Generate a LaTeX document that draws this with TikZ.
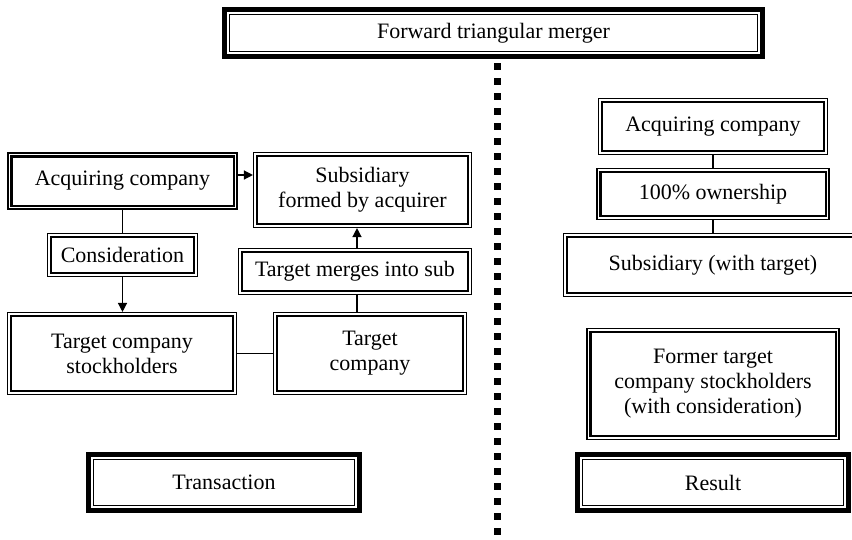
\documentclass[tikz,border=0pt]{standalone}
\usepackage{fontspec}
\setmainfont{Liberation Serif}
\usetikzlibrary{arrows.meta}

\begin{document}
\begin{tikzpicture}[x=1pt, y=-1pt,
  box/.style={draw, line width=1.1pt, align=center, inner sep=0pt,
    font=\fontsize{22}{25}\selectfont,
    path picture={\draw[line width=2.4pt]
      ([shift={(3.3pt,3.3pt)}]path picture bounding box.south west) rectangle
      ([shift={(-3.3pt,-3.3pt)}]path picture bounding box.north east);}},
  heavybox/.style={draw, line width=5pt, align=center, inner sep=0pt,
    font=\fontsize{22}{25}\selectfont,
    path picture={\draw[line width=1.3pt]
      ([shift={(4.7pt,4.7pt)}]path picture bounding box.south west) rectangle
      ([shift={(-4.7pt,-4.7pt)}]path picture bounding box.north east);}},
  link/.style={line width=1.3pt},
  arr/.style={line width=1.3pt, -{Triangle[length=9pt,width=9pt]}},
  divider/.style={line width=7pt, dash pattern=on 7pt off 8pt}]
  \useasboundingbox (0,0) rectangle (852,539);
  % Title and divider
  \node[heavybox, minimum width=538pt, minimum height=47pt] (title) at (493.5,33) {Forward triangular merger};
  \coordinate (divtop) at (497,63);
  \coordinate (divbot) at (497,539);
  \draw[divider] (divtop) -- (divbot);
  % Transaction side
  \node[box, minimum width=229pt, minimum height=56pt] (acqL) at (122.5,181) {Acquiring company};
  \node[box, minimum width=150pt, minimum height=43pt] (consid) at (122.5,255) {Consideration};
  \node[box, minimum width=218pt, minimum height=75pt] (subF) at (362.5,190) {Subsidiary\\formed by acquirer};
  \node[box, minimum width=233pt, minimum height=46pt] (merge) at (355,271.5) {Target merges into sub};
  \node[box, minimum width=229pt, minimum height=82pt] (stock) at (122,353.5) {Target company\\stockholders};
  \node[box, minimum width=193pt, minimum height=82pt] (tgt) at (370,353.5) {Target\\company};
  \node[heavybox, minimum width=271pt, minimum height=56pt] (trans) at (224,482.5) {Transaction};
  \draw[link] (acqL) -- (consid);
  \draw[arr] (consid.south) -- (consid.south |- stock.north);
  \draw[arr] ([yshift=6pt]acqL.east) -- ([yshift=6pt]acqL.east -| subF.west);
  \draw[arr] ([xshift=2pt]merge.north) -- ([xshift=2pt]merge.north |- subF.south);
  \draw[link] ([xshift=2pt]merge.south) -- ([xshift=2pt]merge.south |- tgt.north);
  \draw[link] (stock) -- (tgt);
  % Result side
  \node[box, minimum width=229pt, minimum height=56pt] (acqR) at (713,126.5) {Acquiring company};
  \node[box, minimum width=232pt, minimum height=51pt] (own) at (713,194) {100\% ownership};
  \node[box, minimum width=299pt, minimum height=63pt] (subW) at (713,265) {Subsidiary (with target)};
  \node[box, minimum width=252pt, minimum height=111pt] (former) at (713,384) {Former target\\company stockholders\\(with consideration)};
  \node[heavybox, minimum width=271pt, minimum height=56pt] (result) at (713,482.5) {Result};
  \draw[link] (acqR) -- (own);
  \draw[link] (own) -- (subW);
\end{tikzpicture}
\end{document}
